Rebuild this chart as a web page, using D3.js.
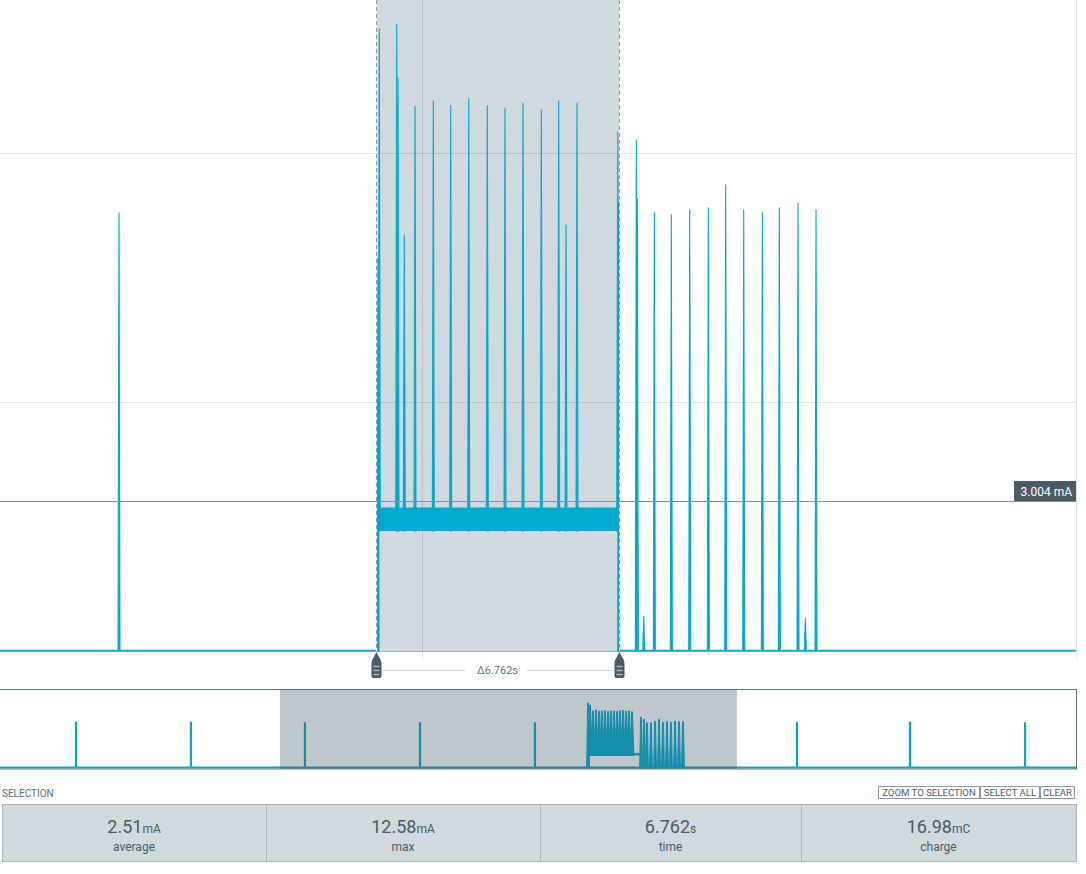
<!DOCTYPE html>
<html>
<head>
<meta charset="utf-8">
<script src="https://cdn.jsdelivr.net/npm/d3@7"></script>
<style>
  body { margin: 0; background: #fff; font-family: Roboto, "Noto Sans", sans-serif; }
  svg { display: block; }
</style>
</head>
<body>
<div id="chart"></div>
<script>
// ---- main view (seconds / mA) ----
var viewDomain = [0, 29.94];
var currentMax = 13.07;
var selection = [10.463, 17.224];
var selectionLabel = "\u03946.762s";
var gridCurrents = [5, 10];
var gridTimes = [11.743];
var cursorCurrent = 3.004;
var cursorLabel = "3.004 mA";

// noisy plateau inside the selection
var bandTimes = [10.532, 17.21];
var bandLow = 2.41, bandHigh = 2.87;

var spikeTimes = [3.311, 10.518, 10.554, 11.039, 11.075, 11.250, 11.548, 12.057, 12.541, 13.042,
  13.560, 14.052, 14.553, 15.062, 15.546, 15.750, 16.056, 17.188, 17.216, 17.706, 17.734, 17.912,
  18.207, 18.680, 19.192, 19.709, 20.193, 20.694, 21.212, 21.685, 22.205, 22.409, 22.706];
var spikePeaks = [8.80, 7.89, 12.49, 12.58, 11.51, 8.35, 10.94, 11.04, 10.95, 11.09,
  10.95, 10.90, 11.00, 10.86, 11.04, 8.55, 11.00, 10.43, 9.02, 10.27, 9.08, 0.70,
  8.81, 8.76, 8.86, 8.90, 9.36, 8.86, 8.81, 8.90, 8.99, 0.66, 8.86];

// ---- overview ----
var ovDomain = [0, 70.5];
var ovCurrentMax = 15;
var ovWindow = [18.34, 48.28];
var ovSpikeTimes = [4.98, 12.51, 19.98, 27.52, 35.05, 52.22, 59.62, 67.16];
var ovSpikePeaks = [8.9, 8.9, 8.8, 8.8, 8.8, 8.9, 8.9, 8.8];
var ovBand = [38.66, 41.93];
var ovBurstTimes = [38.53, 38.66, 38.85, 39.05, 39.25, 39.44, 39.64, 39.84, 40.03, 40.23, 40.43,
  40.62, 40.82, 41.02, 41.21, 41.41, 42.00, 42.20, 42.39, 42.65, 42.92, 43.18, 43.44, 43.70,
  43.96, 44.23, 44.49, 44.75];
var ovBurstPeaks = [12.5, 12.1, 11.0, 11.2, 10.9, 11.0, 11.1, 10.9, 11.0, 11.0, 10.9,
  11.0, 11.1, 10.9, 11.0, 10.8, 9.8, 9.4, 8.7, 8.7, 9.0, 9.4, 8.8, 9.0,
  8.8, 9.0, 8.9, 8.9];

// ---- stats ----
var statValues = ["2.51", "12.58", "6.762", "16.98"];
var statUnits = ["mA", "mA", "s", "mC"];
var statNames = ["average", "max", "time", "charge"];
var buttonLabels = ["ZOOM TO SELECTION", "SELECT ALL", "CLEAR"];

var traceColor = "#00a9ce";
var slate = "#4a5b66";
var plotW = 1076, plotH = 651;

var svg = d3.select("#chart").append("svg")
    .attr("width", 1086)
    .attr("height", 874);

var x = d3.scaleLinear().domain(viewDomain).range([0, plotW]);
var y = d3.scaleLinear().domain([0, currentMax]).range([plotH, 0]);

var main = svg.append("g");

// selection shade
main.append("rect")
    .attr("x", x(selection[0]))
    .attr("y", 0)
    .attr("width", x(selection[1]) - x(selection[0]))
    .attr("height", plotH)
    .attr("fill", "#d0d9de");

// grid
main.selectAll(".hgrid").data(gridCurrents).enter().append("line")
    .attr("x1", 0).attr("x2", plotW)
    .attr("y1", function(d) { return Math.round(y(d)) + 0.5; })
    .attr("y2", function(d) { return Math.round(y(d)) + 0.5; })
    .attr("stroke", "rgba(0,0,0,0.11)");

main.selectAll(".vgrid").data(gridTimes).enter().append("line")
    .attr("x1", function(d) { return Math.round(x(d)) + 0.5; })
    .attr("x2", function(d) { return Math.round(x(d)) + 0.5; })
    .attr("y1", 0).attr("y2", plotH + 8)
    .attr("stroke", "rgba(0,0,0,0.11)");

main.append("line")
    .attr("x1", plotW + 0.5).attr("x2", plotW + 0.5)
    .attr("y1", 0).attr("y2", plotH + 8)
    .attr("stroke", "#e0e0e0");

// x axis line
main.append("line")
    .attr("x1", 0).attr("x2", plotW)
    .attr("y1", plotH + 0.5).attr("y2", plotH + 0.5)
    .attr("stroke", "#a3aeb4");

// baseline of the trace, broken by the plateau
var baseLine = d3.line()
    .x(function(d) { return x(d[0]); })
    .y(function(d) { return y(d[1]) - 0.5; });

main.append("path")
    .datum([[viewDomain[0], 0], [bandTimes[0], 0]])
    .attr("d", baseLine)
    .attr("fill", "none").attr("stroke", traceColor).attr("stroke-width", 1.5);
main.append("path")
    .datum([[bandTimes[1], 0], [viewDomain[1], 0]])
    .attr("d", baseLine)
    .attr("fill", "none").attr("stroke", traceColor).attr("stroke-width", 1.5);

// plateau
main.append("path")
    .datum([[bandTimes[0], 0], [bandTimes[0], bandHigh], [bandTimes[1], bandHigh], [bandTimes[1], 0]])
    .attr("d", d3.line().x(function(d) { return x(d[0]); }).y(function(d) { return y(d[1]); }))
    .attr("fill", "none").attr("stroke", traceColor).attr("stroke-width", 1.2);
main.append("rect")
    .attr("x", x(bandTimes[0]))
    .attr("y", y(bandHigh))
    .attr("width", x(bandTimes[1]) - x(bandTimes[0]))
    .attr("height", y(bandLow) - y(bandHigh))
    .attr("fill", traceColor);

// spikes
function spikeBase(t) {
  return (t >= bandTimes[0] && t <= bandTimes[1]) ? bandLow : 0;
}
main.selectAll(".spike").data(spikeTimes).enter().append("path")
    .attr("d", function(t, i) {
      var cx = x(t), b = y(spikeBase(t)), p = y(spikePeaks[i]);
      return "M" + (cx - 1) + "," + b + "L" + cx + "," + p + "L" + (cx + 1) + "," + b + "Z";
    })
    .attr("fill", traceColor)
    .attr("stroke", traceColor)
    .attr("stroke-width", 1.1)
    .attr("stroke-linejoin", "round");

// selection edges
selection.forEach(function(t) {
  var sx = Math.round(x(t)) + 0.5;
  main.append("line")
      .attr("x1", sx).attr("x2", sx).attr("y1", 0).attr("y2", plotH)
      .attr("stroke", "#f4f6f7").attr("stroke-width", 1);
  main.append("line")
      .attr("x1", sx).attr("x2", sx).attr("y1", 0).attr("y2", plotH)
      .attr("stroke", "#8c9ba4").attr("stroke-width", 1)
      .attr("stroke-dasharray", "4,3");
});

// cursor line + value tag
var cy = Math.round(y(cursorCurrent)) + 0.5;
main.append("line")
    .attr("x1", 0).attr("x2", plotW)
    .attr("y1", cy).attr("y2", cy)
    .attr("stroke", "#7e909a");
main.append("rect")
    .attr("x", plotW - 62).attr("y", cy - 20.5)
    .attr("width", 62).attr("height", 20)
    .attr("fill", slate);
main.append("text")
    .attr("x", plotW - 4).attr("y", cy - 5.5)
    .attr("text-anchor", "end")
    .attr("font-size", 12)
    .attr("fill", "#fff")
    .text(cursorLabel);

// markers under the selection edges
var markerPath = "M0,0 C1.5,4 5,7 5,12 L5,24 Q5,26 3,26 L-3,26 Q-5,26 -5,24 L-5,12 C-5,7 -1.5,4 0,0 Z";
var mid = (x(selection[0]) + x(selection[1])) / 2;
var labelY = plotH + 19;
main.append("line")
    .attr("x1", x(selection[0]) + 7).attr("x2", mid - 32)
    .attr("y1", labelY + 0.5).attr("y2", labelY + 0.5)
    .attr("stroke", "#c9d1d6");
main.append("line")
    .attr("x1", mid + 29).attr("x2", x(selection[1]) - 7)
    .attr("y1", labelY + 0.5).attr("y2", labelY + 0.5)
    .attr("stroke", "#c9d1d6");
main.append("text")
    .attr("x", mid).attr("y", labelY + 4)
    .attr("text-anchor", "middle")
    .attr("font-size", 11)
    .attr("fill", "#66777f")
    .text(selectionLabel);

selection.forEach(function(t) {
  var g = main.append("g")
      .attr("transform", "translate(" + (Math.round(x(t)) + 0.5) + "," + (plotH + 1) + ")");
  g.append("path").attr("d", markerPath).attr("fill", slate);
  [14.5, 18.5, 22.5].forEach(function(ly) {
    g.append("line")
        .attr("x1", -3).attr("x2", 3).attr("y1", ly).attr("y2", ly)
        .attr("stroke", "#aab6bd").attr("stroke-width", 1.5);
  });
});

// ---- overview strip ----
var ovTop = 690, ovBottom = 768;
var ox = d3.scaleLinear().domain(ovDomain).range([0, plotW]);
var oy = d3.scaleLinear().domain([0, ovCurrentMax]).range([ovBottom, ovTop]);
var ov = svg.append("g");

ov.append("line")
    .attr("x1", 0).attr("x2", plotW)
    .attr("y1", oy(0) - 0.5).attr("y2", oy(0) - 0.5)
    .attr("stroke", traceColor).attr("stroke-width", 2);

ov.append("rect")
    .attr("x", ox(ovBand[0])).attr("y", oy(bandHigh))
    .attr("width", ox(ovBand[1]) - ox(ovBand[0]))
    .attr("height", oy(bandLow) - oy(bandHigh))
    .attr("fill", traceColor);

ov.selectAll(".ovspike").data(ovSpikeTimes).enter().append("line")
    .attr("x1", function(d) { return ox(d); })
    .attr("x2", function(d) { return ox(d); })
    .attr("y1", oy(0))
    .attr("y2", function(d, i) { return oy(ovSpikePeaks[i]); })
    .attr("stroke", traceColor).attr("stroke-width", 2.2);

ov.selectAll(".ovburst").data(ovBurstTimes).enter().append("path")
    .attr("d", function(t, i) {
      var cx = ox(t);
      var inBand = t >= ovBand[0] && t <= ovBand[1];
      var b = inBand ? oy(bandLow) : oy(0);
      var hw = inBand ? 1.9 : 1.4;
      return "M" + (cx - hw) + "," + b + "L" + (cx - 0.4) + "," + oy(ovBurstPeaks[i]) +
        "L" + (cx + 0.4) + "," + oy(ovBurstPeaks[i]) + "L" + (cx + hw) + "," + b + "Z";
    })
    .attr("fill", traceColor).attr("stroke", traceColor).attr("stroke-width", 1);

ov.append("rect")
    .attr("x", ox(ovWindow[0])).attr("y", ovTop)
    .attr("width", ox(ovWindow[1]) - ox(ovWindow[0]))
    .attr("height", ovBottom - ovTop + 1)
    .attr("fill", "#3d5766").attr("opacity", 0.335);

ov.append("rect")
    .attr("x", -0.5).attr("y", ovTop - 0.5)
    .attr("width", plotW + 1).attr("height", ovBottom - ovTop + 1.5)
    .attr("fill", "none").attr("stroke", "#62757f");

// ---- selection stats ----
svg.append("text")
    .attr("x", 2).attr("y", 797)
    .attr("font-size", 10)
    .attr("fill", "#5d6d77")
    .text("SELECTION");

var btnEdges = [878, 980, 1040, 1075];
buttonLabels.forEach(function(lbl, i) {
  svg.append("rect")
      .attr("x", btnEdges[i] + 0.5).attr("y", 786.5)
      .attr("width", btnEdges[i + 1] - btnEdges[i] - 1).attr("height", 12)
      .attr("fill", "#fff").attr("stroke", "#8d9da6");
  svg.append("text")
      .attr("x", (btnEdges[i] + btnEdges[i + 1]) / 2).attr("y", 796)
      .attr("text-anchor", "middle")
      .attr("font-size", 9.6)
      .attr("fill", "#4e5e68")
      .text(lbl);
});

var cellEdges = [2, 266, 540, 801, 1076];
var panelTop = 804, panelBottom = 861;
svg.append("rect")
    .attr("x", cellEdges[0] + 0.5).attr("y", panelTop + 0.5)
    .attr("width", cellEdges[4] - cellEdges[0]).attr("height", panelBottom - panelTop)
    .attr("fill", "#d0d9de").attr("stroke", "#aab6bd");

statValues.forEach(function(v, i) {
  var cx = (cellEdges[i] + cellEdges[i + 1]) / 2;
  if (i > 0) {
    svg.append("line")
        .attr("x1", cellEdges[i] + 0.5).attr("x2", cellEdges[i] + 0.5)
        .attr("y1", panelTop).attr("y2", panelBottom)
        .attr("stroke", "#aab6bd");
  }
  var t = svg.append("text")
      .attr("x", cx).attr("y", 833)
      .attr("text-anchor", "middle")
      .attr("fill", slate);
  t.append("tspan").attr("font-size", 18).text(v);
  t.append("tspan").attr("font-size", 12).text(statUnits[i]);
  svg.append("text")
      .attr("x", cx).attr("y", 851)
      .attr("text-anchor", "middle")
      .attr("font-size", 12)
      .attr("fill", slate)
      .text(statNames[i]);
});
</script>
</body>
</html>
